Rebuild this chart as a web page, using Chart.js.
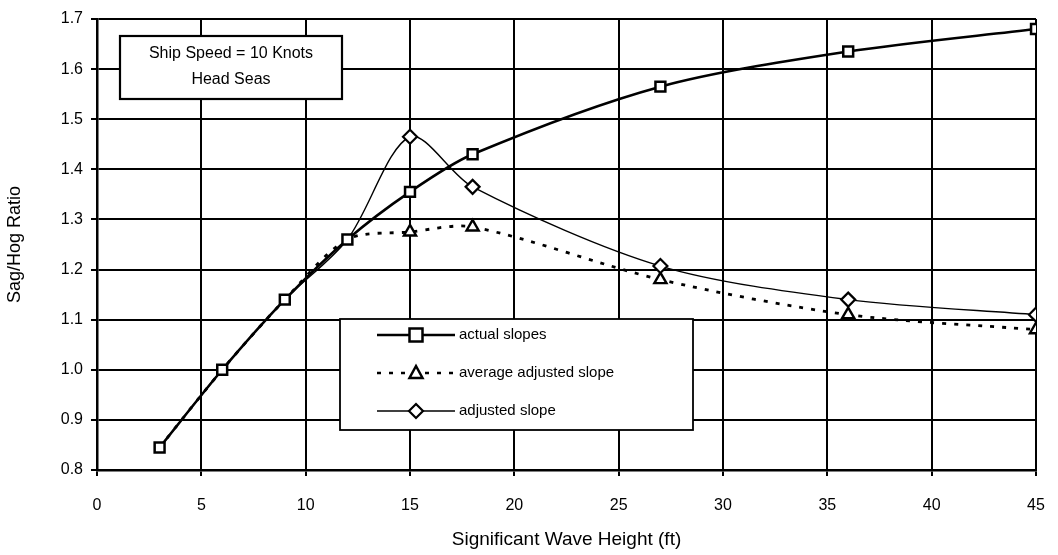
<!DOCTYPE html>
<html>
<head>
  <meta charset="UTF-8" />
  <title>Sag/Hog Ratio</title>
  <script src="https://cdn.jsdelivr.net/npm/chart.js"></script>
  <style>
    html, body {
      margin: 0;
      padding: 0;
      background: #ffffff;
    }
    #wrap {
      width: 1058px;
      height: 555px;
    }
  </style>
</head>
<body>
  <div id="wrap"><canvas id="chart"></canvas></div>

  <script>
    // data
    const waveHeight = [3, 6, 9, 12, 15, 18, 27, 36, 45];
    const actualSlopes = [0.845, 1.0, 1.14, 1.26, 1.355, 1.43, 1.565, 1.635, 1.68];
    const avgAdjustedSlope = [0.845, 1.0, 1.14, 1.26, 1.275, 1.285, 1.18, 1.11, 1.08];
    const adjustedSlope = [0.845, 1.0, 1.14, 1.26, 1.465, 1.365, 1.207, 1.14, 1.11];

    const seriesNames = ['actual slopes', 'average adjusted slope', 'adjusted slope'];
    const xTicks = [0, 5, 10, 15, 20, 25, 30, 35, 40, 45];
    const yTicks = [0.8, 0.9, 1.0, 1.1, 1.2, 1.3, 1.4, 1.5, 1.6, 1.7];
    const noteLines = ['Ship Speed = 10 Knots', 'Head Seas'];

    const FONT = '"Liberation Sans", Arial, sans-serif';

    const toPoints = ys => waveHeight.map((x, i) => ({ x: x, y: ys[i] }));
    // first four points sit under the squares
    const radiiAfter = (n, r) => waveHeight.map((x, i) => i < n ? 0 : r);

    function marker(ctx, kind, x, y) {
      ctx.save();
      ctx.fillStyle = '#fff';
      ctx.strokeStyle = '#000';
      ctx.setLineDash([]);
      ctx.beginPath();
      if (kind === 'rect') {
        ctx.lineWidth = 2.5;
        ctx.rect(x - 6.5, y - 6.5, 13, 13);
      } else if (kind === 'triangle') {
        ctx.lineWidth = 2.5;
        ctx.moveTo(x, y - 7);
        ctx.lineTo(x + 6.5, y + 5);
        ctx.lineTo(x - 6.5, y + 5);
        ctx.closePath();
      } else {
        ctx.lineWidth = 2.2;
        ctx.moveTo(x, y - 7);
        ctx.lineTo(x + 7, y);
        ctx.lineTo(x, y + 7);
        ctx.lineTo(x - 7, y);
        ctx.closePath();
      }
      ctx.fill();
      ctx.stroke();
      ctx.restore();
    }

    // text box top-left + legend box inside the plot
    const boxesPlugin = {
      id: 'boxes',
      afterDraw(chart) {
        const ctx = chart.ctx;
        ctx.save();

        // note box
        ctx.fillStyle = '#fff';
        ctx.strokeStyle = '#000';
        ctx.lineWidth = 2.2;
        ctx.fillRect(120, 36, 222, 63);
        ctx.strokeRect(120, 36, 222, 63);
        ctx.fillStyle = '#000';
        ctx.font = '16px ' + FONT;
        ctx.textAlign = 'center';
        ctx.textBaseline = 'middle';
        ctx.fillText(noteLines[0], 231, 54);
        ctx.fillText(noteLines[1], 231, 80);

        // legend box
        ctx.fillStyle = '#fff';
        ctx.fillRect(340, 319, 353, 111);
        ctx.lineWidth = 1.8;
        ctx.strokeRect(340, 319, 353, 111);

        const rows = [335, 373, 411];
        const kinds = ['rect', 'triangle', 'rectRot'];
        const widths = [2.4, 2.6, 1.3];
        const dashes = [[], [4, 8], []];
        rows.forEach((y, i) => {
          ctx.strokeStyle = '#000';
          ctx.lineWidth = widths[i];
          ctx.setLineDash(dashes[i]);
          ctx.beginPath();
          ctx.moveTo(377, y);
          ctx.lineTo(455, y);
          ctx.stroke();
          marker(ctx, kinds[i], 416, y);
          ctx.fillStyle = '#000';
          ctx.font = '15px ' + FONT;
          ctx.textAlign = 'left';
          ctx.textBaseline = 'middle';
          ctx.fillText(seriesNames[i], 459, y);
        });
        ctx.restore();
      }
    };

    const ctx = document.getElementById('chart').getContext('2d');
    new Chart(ctx, {
      type: 'line',
      data: {
        datasets: [
          {
            label: seriesNames[0],
            data: toPoints(actualSlopes),
            borderColor: '#000',
            borderWidth: 2.6,
            tension: 0.3,
            pointStyle: 'rect',
            pointRadius: 7,
            pointBorderWidth: 2.5,
            pointBackgroundColor: '#fff',
            pointBorderColor: '#000',
            order: 0
          },
          {
            label: seriesNames[1],
            data: toPoints(avgAdjustedSlope),
            borderColor: '#000',
            borderWidth: 2.8,
            borderDash: [4, 8],
            tension: 0.3,
            pointStyle: 'triangle',
            pointRadius: radiiAfter(4, 7),
            pointBorderWidth: 2.4,
            pointBackgroundColor: '#fff',
            pointBorderColor: '#000',
            order: 2
          },
          {
            label: seriesNames[2],
            data: toPoints(adjustedSlope),
            borderColor: '#000',
            borderWidth: 1.4,
            tension: 0.3,
            pointStyle: 'rectRot',
            pointRadius: radiiAfter(4, 7),
            pointBorderWidth: 2.2,
            pointBackgroundColor: '#fff',
            pointBorderColor: '#000',
            order: 1
          }
        ]
      },
      options: {
        responsive: true,
        maintainAspectRatio: false,
        animation: false,
        layout: { padding: { left: 0, right: 22, top: 19, bottom: 0 } },
        plugins: {
          legend: { display: false },
          tooltip: { enabled: false }
        },
        scales: {
          x: {
            type: 'linear',
            min: 0,
            max: 45,
            afterBuildTicks: scale => { scale.ticks = xTicks.map(v => ({ value: v })); },
            afterFit: scale => {
              scale.height = 85;
              scale.paddingRight = 0;
              scale.paddingLeft = 0;
            },
            grid: { color: '#000', lineWidth: 2, tickLength: 6 },
            border: { color: '#000', width: 2.5 },
            ticks: {
              color: '#000',
              padding: 20,
              font: { family: FONT, size: 16 }
            },
            title: {
              display: true,
              text: 'Significant Wave Height (ft)',
              color: '#000',
              font: { family: FONT, size: 19 },
              padding: { top: 6 }
            }
          },
          y: {
            min: 0.8,
            max: 1.7,
            afterBuildTicks: scale => { scale.ticks = yTicks.map(v => ({ value: v })); },
            afterFit: scale => { scale.width = 97; },
            grid: { color: '#000', lineWidth: 2, tickLength: 6 },
            border: { color: '#000', width: 2.5 },
            ticks: {
              color: '#000',
              padding: 8,
              font: { family: FONT, size: 16 },
              callback: v => v.toFixed(1)
            },
            title: {
              display: true,
              text: 'Sag/Hog Ratio',
              color: '#000',
              font: { family: FONT, size: 18 },
              padding: { bottom: 2 }
            }
          }
        }
      },
      plugins: [boxesPlugin]
    });
  </script>
</body>
</html>
